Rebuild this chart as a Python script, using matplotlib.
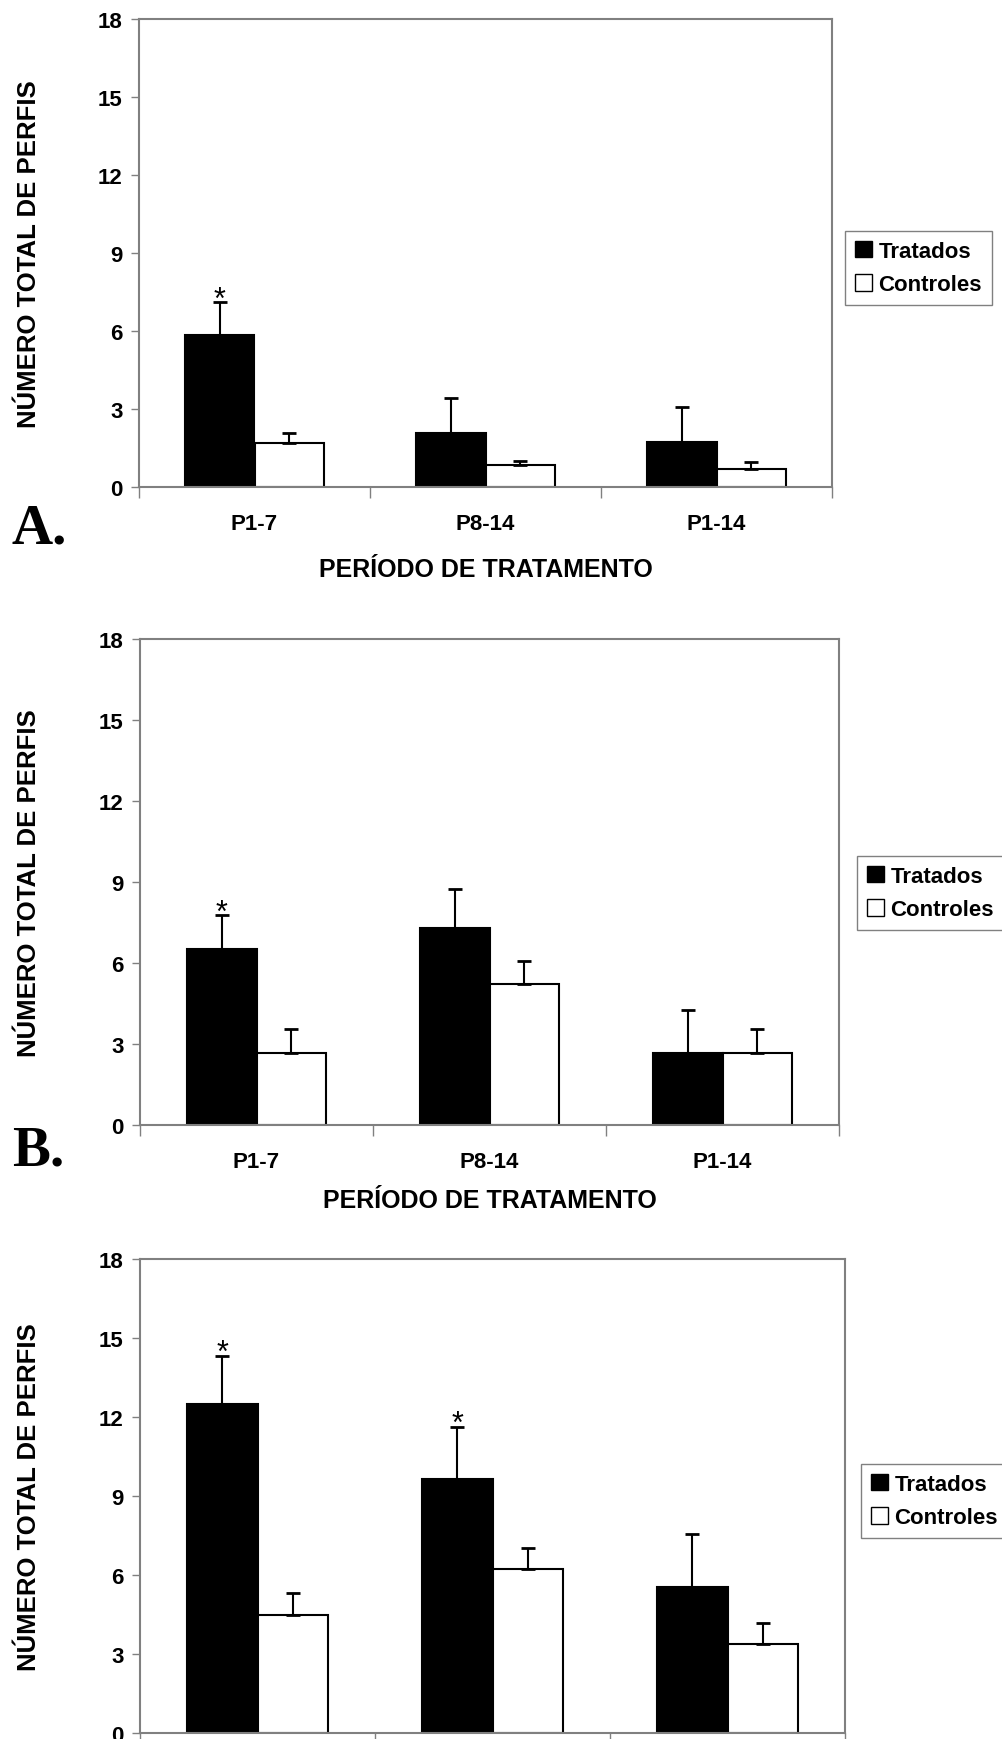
import numpy as np
import matplotlib
matplotlib.use("Agg")
from matplotlib import pyplot as plt
from matplotlib.patches import Patch

categories = ["P1-7", "P8-14", "P1-14"]

# painel A
tratados_a = [5.85, 2.07, 1.75]
tratados_a_err = [1.25, 1.36, 1.34]
controles_a = [1.68, 0.86, 0.68]
controles_a_err = [0.39, 0.14, 0.29]
signif_a = [True, False, False]

# painel B
tratados_b = [6.52, 7.31, 2.68]
tratados_b_err = [1.25, 1.44, 1.57]
controles_b = [2.68, 5.21, 2.68]
controles_b_err = [0.87, 0.87, 0.87]
signif_b = [True, False, False]

# painel C
tratados_c = [12.48, 9.65, 5.53]
tratados_c_err = [1.85, 1.98, 2.01]
controles_c = [4.49, 6.22, 3.39]
controles_c_err = [0.81, 0.79, 0.79]
signif_c = [True, True, False]

yticks = [0, 3, 6, 9, 12, 15, 18]

plt.rcParams["font.family"] = ["Liberation Sans", "DejaVu Sans"]
plt.rcParams["font.weight"] = "bold"

GRAY = "#808080"
W, H = 1002, 1740

fig = plt.figure(figsize=(W / 100, H / 100), dpi=100)


def draw_panel(rect, trat, trat_err, ctrl, ctrl_err, signif, letter, legend_xy,
               show_xlabels=True, tick_pad=20, label_pad=12, letter_off=40):
    ax = fig.add_axes(rect)
    x = np.arange(len(categories)) + 0.5
    w = 0.3

    ax.bar(x - w / 2, trat, w, color="black", edgecolor="black", linewidth=1.5, zorder=2)
    ax.bar(x + w / 2, ctrl, w, color="white", edgecolor="black", linewidth=1.5, zorder=2)

    zeros = np.zeros(len(categories))
    ax.errorbar(x - w / 2, trat, yerr=[zeros, trat_err], fmt="none", ecolor="black",
                elinewidth=1.5, capsize=5, capthick=2, zorder=3)
    ax.errorbar(x + w / 2, ctrl, yerr=[zeros, ctrl_err], fmt="none", ecolor="black",
                elinewidth=1.5, capsize=5, capthick=2, zorder=3)

    # asteriscos de significancia
    for xi, t, e, s in zip(x, trat, trat_err, signif):
        if s:
            ax.annotate("*", (xi - w / 2, t + e), xytext=(0, -4), textcoords="offset points",
                        ha="center", va="baseline", fontsize=22, fontweight="normal")

    ax.set_xlim(0, 3)
    ax.set_ylim(0, 18)
    ax.set_yticks(yticks)
    ax.tick_params(axis="y", labelsize=16, length=6, width=1, color=GRAY, pad=6)

    ax.set_xticks([0, 1, 2, 3])
    ax.set_xticklabels([])
    ax.tick_params(axis="x", which="major", length=8, width=1, color=GRAY)
    ax.set_xticks(x, minor=True)
    if show_xlabels:
        ax.set_xticklabels(categories, minor=True)
    ax.tick_params(axis="x", which="minor", length=0, labelsize=16, pad=tick_pad)

    for sp in ax.spines.values():
        sp.set_color(GRAY)
        sp.set_linewidth(1.5)

    ax.set_ylabel("NÚMERO TOTAL DE PERFIS", fontsize=18.5, fontweight="bold")
    ax.yaxis.set_label_coords(-0.141, 0.5)
    if show_xlabels:
        ax.set_xlabel("PERÍODO DE TRATAMENTO", fontsize=18, fontweight="bold")
        ax.xaxis.labelpad = label_pad

    handles = [Patch(facecolor="black", edgecolor="black"),
               Patch(facecolor="white", edgecolor="black")]
    leg = ax.legend(handles, ["Tratados", "Controles"], loc="upper left",
                    bbox_to_anchor=legend_xy, bbox_transform=fig.transFigure,
                    borderaxespad=0, fancybox=False, framealpha=1, edgecolor=GRAY,
                    fontsize=16, handlelength=0.75, handleheight=0.75,
                    handletextpad=0.3, labelspacing=0.55, borderpad=0.45)
    leg.get_frame().set_linewidth(1)

    if letter:
        bb = ax.get_position()
        fig.text(12 / W, bb.y0 - letter_off / H, letter, fontsize=41, fontweight="bold",
                 family=["Liberation Serif", "DejaVu Serif"], va="center", ha="left")
    return ax


draw_panel([139 / W, 1 - 488 / H, 693 / W, 468 / H], tratados_a, tratados_a_err,
           controles_a, controles_a_err, signif_a, "A.", (845 / W, 1 - 232 / H),
           tick_pad=19, label_pad=16, letter_off=42)
draw_panel([140 / W, 1 - 1126 / H, 699 / W, 486 / H], tratados_b, tratados_b_err,
           controles_b, controles_b_err, signif_b, "B.", (857 / W, 1 - 857 / H),
           tick_pad=19, label_pad=11, letter_off=26)
draw_panel([140 / W, 1 - 1734 / H, 705 / W, 474 / H], tratados_c, tratados_c_err,
           controles_c, controles_c_err, signif_c, None, (861 / W, 1 - 1465 / H),
           show_xlabels=False)

fig.savefig("out.png", dpi=100)
